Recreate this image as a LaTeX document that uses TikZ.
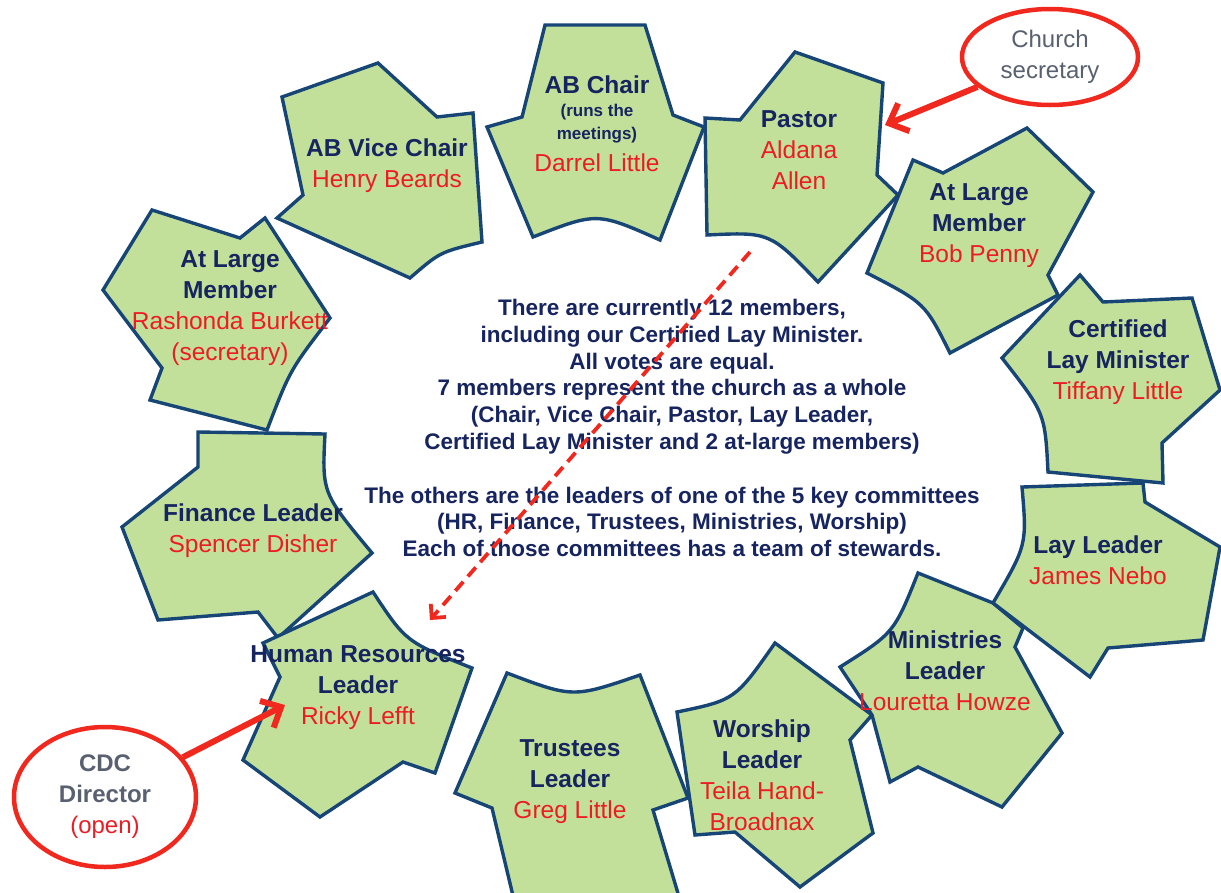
\documentclass[tikz,border=0pt]{standalone}
\usepackage{fontspec}
\setmainfont{Liberation Sans}
\usetikzlibrary{arrows.meta,shapes.geometric}
\definecolor{piecefill}{RGB}{195,224,155}
\definecolor{pieceline}{RGB}{23,70,118}
\definecolor{navy}{RGB}{22,36,96}
\definecolor{redname}{RGB}{237,28,36}
\definecolor{grayt}{RGB}{89,96,112}
\definecolor{arrowred}{RGB}{240,40,30}
\newcommand\pttl[1]{\textcolor{navy}{\bfseries #1}}
\newcommand\pname[1]{\textcolor{redname}{#1}}
\begin{document}
\begin{tikzpicture}[x=1pt,y=-1pt,
  piece/.style={fill=piecefill,draw=pieceline,line width=3.4pt,line join=miter,miter limit=3},
  lbl/.style={align=center,inner sep=0pt,font=\fontsize{24.5}{31}\selectfont},
  small/.style={inner sep=0pt,font=\fontsize{17}{20}\selectfont\bfseries,text=navy},
  info/.style={align=center,inner sep=0pt,text=navy,font=\fontsize{22.5}{26.8}\selectfont\bfseries},
  callout/.style={ellipse,draw=arrowred,line width=4.5pt,fill=white,inner sep=0pt,align=center,font=\fontsize{24}{31}\selectfont},
  bigarrow/.style={draw=arrowred,line width=6pt,-{Straight Barb[length=16pt,width=30pt]}},
  dasharrow/.style={draw=arrowred,line width=3.8pt,dashed,dash pattern=on 12pt off 7pt,-{Straight Barb[length=10pt,width=20pt]}}
]
\useasboundingbox (0,0) rectangle (1221,892);
\clip (0,0) rectangle (1221,892);
\fill[white] (0,0) rectangle (1221,892);

% pieces
\draw[piece] (545,25) -- (645,25) -- (673,115) -- (704,127) -- (660,240)
  .. controls (597,212) .. (533,237) -- (487,127) -- (522,117) -- cycle; % AB Chair
\draw[piece] (705,118) -- (740,120) -- (795,52) -- (883,83) -- (877,175) -- (898,195)
  -- (818,282) .. controls (770,232) .. (707,235) -- cycle; % Pastor
\draw[piece] (282,97) -- (378,63) -- (437,117) -- (473,113) -- (482,242)
  .. controls (440,252) .. (410,278) -- (277,218) -- (303,195) -- cycle; % Vice chair
\draw[piece] (152,210) -- (240,238) -- (265,218) -- (330,318)
  .. controls (290,370) .. (267,430) -- (150,400) -- (162,368) -- (103,290) -- cycle; % At large L
\draw[piece] (913,160) -- (943,173) -- (1027,128) -- (1093,192) -- (1048,275) -- (1058,295)
  -- (950,353) .. controls (925,303) .. (867,273) -- cycle; % At large R
\draw[piece] (1002,358) -- (1080,275) -- (1103,302) -- (1192,298) -- (1220,390) -- (1162,443)
  -- (1163,483) -- (1048,472) .. controls (1045,413) .. (1002,358) -- cycle; % Certified
\draw[piece] (198,432) -- (325,434) .. controls (322,493) .. (372,553) -- (278,638) -- (258,612)
  -- (158,620) -- (122,527) -- (198,467) -- cycle; % Finance
\draw[piece] (263,643) -- (373,592) .. controls (406,642) .. (472,668) -- (435,773) -- (403,762)
  -- (320,817) -- (243,760) -- (280,677) -- cycle; % HR
\draw[piece] (507,673) .. controls (573,698) .. (640,675) -- (688,798) -- (653,810) -- (680,900)
  -- (514,900) -- (492,808) -- (455,793) -- cycle; % Trustees
\draw[piece] (677,712) .. controls (735,700) .. (775,643) -- (872,715) -- (850,740) -- (873,833)
  -- (800,887) -- (735,832) -- (695,835) -- cycle; % Worship
\draw[piece] (918,573) -- (993,603) -- (1023,628) -- (1015,647) -- (1062,733) -- (1002,807)
  -- (918,767) -- (890,782) -- (872,715) -- (840,667) .. controls (894,633) .. (918,573) -- cycle; % Ministries
\draw[piece] (1022,487) -- (1143,483) -- (1145,502) -- (1220,547) -- (1203,640) -- (1108,648)
  -- (1090,677) -- (993,603) .. controls (1027,545) .. (1022,487) -- cycle; % Lay leader

% piece texts
\node[lbl] (chairT) at (597,85) {\pttl{AB Chair}};
\node[small] (chairR) at (597,112) {(runs the};
\node[small] (chairM) at (597,135) {meetings)};
\node[lbl] (chairN) at (597,163) {\pname{Darrel Little}};
\node[lbl] (pastor) at (799,150) {\pttl{Pastor}\\\pname{Aldana}\\\pname{Allen}};
\node[lbl] (vice) at (387,166) {\pttl{AB Vice Chair}\\\pname{Henry Beards}};
\node[lbl] (largeL) at (230,308) {\pttl{At Large}\\\pttl{Member}\\\pname{Rashonda Burkett}\\\pname{(secretary)}};
\node[lbl] (largeR) at (979,226) {\pttl{At Large}\\\pttl{Member}\\\pname{Bob Penny}};
\node[lbl] (clm) at (1118,362) {\pttl{Certified}\\\pttl{Lay Minister}\\\pname{Tiffany Little}};
\node[lbl] (fin) at (253,531) {\pttl{Finance Leader}\\\pname{Spencer Disher}};
\node[lbl] (lay) at (1098,560) {\pttl{Lay Leader}\\\pname{James Nebo}};
\node[lbl] (min) at (945,671) {\pttl{Ministries}\\\pttl{Leader}\\\pname{Louretta Howze}};
\node[lbl] (hr) at (358,688) {\pttl{Human Resources}\\\pttl{Leader}\\\pname{Ricky Lefft}};
\node[lbl] (tru) at (570,782) {\pttl{Trustees}\\\pttl{Leader}\\\pname{Greg Little}};
\node[lbl] (wor) at (762,775) {\pttl{Worship}\\\pttl{Leader}\\\pname{Teila Hand-}\\\pname{Broadnax}};

% center text
\node[info] (infotext) at (672,428) {There are currently 12 members,\\
including our Certified Lay Minister.\\
All votes are equal.\\
7 members represent the church as a whole\\
(Chair, Vice Chair, Pastor, Lay Leader,\\
Certified Lay Minister and 2 at-large members)\\
\mbox{}\\
The others are the leaders of one of the 5 key committees\\
(HR, Finance, Trustees, Ministries, Worship)\\
Each of those committees has a team of stewards.};

% callouts
\node[callout,minimum width=176pt,minimum height=96pt] (secr) at (1050,57)
  {\textcolor{grayt}{Church}\\\textcolor{grayt}{secretary}};
\node[callout,minimum width=182pt,minimum height=140pt] (cdc) at (105,797)
  {\textcolor{grayt}{\bfseries CDC}\\\textcolor{grayt}{\bfseries Director}\\\pname{(open)}};

\coordinate (pastorTip) at (885,125);
\coordinate (hrTip) at (285,705);
\coordinate (dashA) at (750,252);
\coordinate (dashB) at (430,620);
\draw[bigarrow] (secr) -- (pastorTip);
\draw[bigarrow] (cdc) -- (hrTip);
\draw[dasharrow] (dashA) -- (dashB);
\end{tikzpicture}
\end{document}
